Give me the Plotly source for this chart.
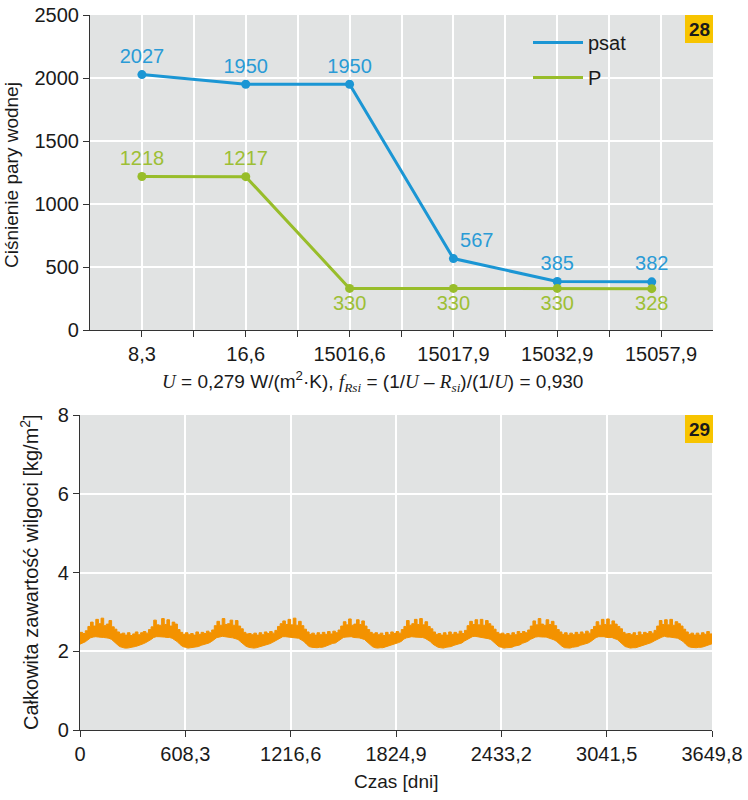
import plotly.graph_objects as go

# ---------------- Chart 28 data ----------------
categories = ["8,3", "16,6", "15016,6", "15017,9", "15032,9", "15057,9"]
cat_ticks = [0, 1, 2, 3, 4, 5]
point_pos = [0, 1, 2, 3, 4, 4.91]
psat = [2027, 1950, 1950, 567, 385, 382]
p_vals = [1218, 1217, 330, 330, 330, 328]

# ---------------- Chart 29 data ----------------
time_ticks = [0, 608.3, 1216.6, 1824.9, 2433.2, 3041.5, 3649.8]
time_labels = ["0", "608,3", "1216,6", "1824,9", "2433,2", "3041,5", "3649,8"]
t_end = 3649.8
# moisture content read roughly every ~15.2 days: lower and upper edge of the band
moist_lower = [
    2.18, 2.20, 2.24, 2.29, 2.34, 2.36, 2.37, 2.36, 2.36, 2.35, 2.34, 2.33, 2.30, 2.25, 2.18, 2.12, 2.09, 2.08, 2.08, 2.09, 2.10, 2.12, 2.14, 2.16,
    2.19, 2.22, 2.25, 2.30, 2.35, 2.37, 2.37, 2.37, 2.36, 2.35, 2.35, 2.33, 2.29, 2.24, 2.17, 2.12, 2.10, 2.08, 2.09, 2.10, 2.11, 2.12, 2.15, 2.17,
    2.19, 2.21, 2.25, 2.31, 2.35, 2.36, 2.38, 2.37, 2.36, 2.36, 2.34, 2.32, 2.30, 2.24, 2.18, 2.13, 2.10, 2.09, 2.08, 2.09, 2.11, 2.13, 2.14, 2.16,
    2.19, 2.22, 2.26, 2.30, 2.34, 2.37, 2.37, 2.36, 2.36, 2.35, 2.34, 2.33, 2.29, 2.25, 2.18, 2.12, 2.10, 2.09, 2.09, 2.10, 2.10, 2.12, 2.15, 2.17,
    2.20, 2.21, 2.25, 2.30, 2.35, 2.36, 2.37, 2.37, 2.35, 2.35, 2.34, 2.32, 2.30, 2.24, 2.17, 2.12, 2.09, 2.08, 2.09, 2.09, 2.11, 2.13, 2.14, 2.16,
    2.19, 2.22, 2.25, 2.31, 2.34, 2.36, 2.37, 2.36, 2.36, 2.35, 2.35, 2.33, 2.29, 2.25, 2.18, 2.13, 2.10, 2.09, 2.08, 2.10, 2.11, 2.12, 2.15, 2.17,
    2.19, 2.21, 2.26, 2.30, 2.35, 2.37, 2.38, 2.37, 2.36, 2.35, 2.34, 2.32, 2.30, 2.24, 2.17, 2.12, 2.10, 2.08, 2.09, 2.09, 2.10, 2.13, 2.14, 2.16,
    2.20, 2.22, 2.25, 2.30, 2.34, 2.36, 2.37, 2.36, 2.36, 2.36, 2.34, 2.33, 2.29, 2.25, 2.18, 2.13, 2.09, 2.09, 2.08, 2.10, 2.11, 2.12, 2.15, 2.17,
    2.19, 2.21, 2.25, 2.31, 2.35, 2.37, 2.37, 2.37, 2.35, 2.35, 2.35, 2.32, 2.30, 2.24, 2.17, 2.12, 2.10, 2.08, 2.09, 2.09, 2.11, 2.13, 2.14, 2.16,
    2.19, 2.22, 2.26, 2.30, 2.34, 2.36, 2.38, 2.36, 2.36, 2.35, 2.34, 2.33, 2.29, 2.25, 2.18, 2.12, 2.10, 2.09, 2.09, 2.10, 2.10, 2.12, 2.15, 2.17,
    2.19,
]
moist_upper = [
    2.48, 2.45, 2.52, 2.63, 2.74, 2.64, 2.81, 2.70, 2.84, 2.65, 2.69, 2.78, 2.62, 2.56, 2.49, 2.44, 2.46, 2.41, 2.47, 2.40, 2.44, 2.49, 2.42, 2.47,
    2.50, 2.46, 2.55, 2.62, 2.79, 2.67, 2.66, 2.83, 2.68, 2.80, 2.64, 2.74, 2.69, 2.55, 2.48, 2.43, 2.47, 2.42, 2.45, 2.41, 2.49, 2.43, 2.48, 2.45,
    2.51, 2.47, 2.54, 2.65, 2.76, 2.66, 2.83, 2.68, 2.70, 2.79, 2.66, 2.78, 2.64, 2.57, 2.48, 2.44, 2.45, 2.42, 2.46, 2.41, 2.47, 2.42, 2.49, 2.45,
    2.50, 2.46, 2.53, 2.63, 2.70, 2.77, 2.68, 2.81, 2.67, 2.84, 2.66, 2.76, 2.65, 2.56, 2.49, 2.43, 2.46, 2.41, 2.47, 2.42, 2.48, 2.43, 2.50, 2.44,
    2.51, 2.47, 2.54, 2.64, 2.75, 2.67, 2.82, 2.66, 2.69, 2.80, 2.68, 2.77, 2.64, 2.55, 2.48, 2.44, 2.47, 2.42, 2.46, 2.40, 2.48, 2.42, 2.49, 2.45,
    2.50, 2.46, 2.55, 2.63, 2.78, 2.66, 2.70, 2.81, 2.68, 2.83, 2.67, 2.75, 2.63, 2.57, 2.49, 2.43, 2.45, 2.41, 2.47, 2.41, 2.49, 2.43, 2.48, 2.44,
    2.51, 2.45, 2.53, 2.65, 2.76, 2.68, 2.80, 2.67, 2.81, 2.66, 2.78, 2.70, 2.64, 2.56, 2.48, 2.44, 2.46, 2.42, 2.45, 2.41, 2.47, 2.42, 2.50, 2.45,
    2.50, 2.47, 2.54, 2.64, 2.77, 2.67, 2.83, 2.69, 2.66, 2.80, 2.68, 2.76, 2.65, 2.55, 2.49, 2.43, 2.47, 2.41, 2.46, 2.42, 2.48, 2.43, 2.49, 2.44,
    2.51, 2.46, 2.55, 2.63, 2.75, 2.66, 2.81, 2.68, 2.82, 2.67, 2.77, 2.69, 2.63, 2.57, 2.48, 2.44, 2.45, 2.42, 2.47, 2.40, 2.49, 2.42, 2.48, 2.45,
    2.50, 2.46, 2.53, 2.64, 2.78, 2.68, 2.80, 2.67, 2.81, 2.66, 2.75, 2.70, 2.64, 2.56, 2.49, 2.43, 2.46, 2.41, 2.46, 2.41, 2.47, 2.43, 2.50, 2.44,
    2.42,
]
n_steps = len(moist_lower) - 1
time_days = [t_end * i / n_steps for i in range(n_steps + 1)]

# ---------------- styles ----------------
W, H = 748, 800
BLUE = "#1b96d4"
BLUE_TXT = "#2a9bd6"
GREEN = "#98bd2a"
GREEN_TXT = "#9dbf35"
ORANGE = "#f39200"
BG = "#e1e3e3"
AXC = "#333333"
FONT = "Liberation Sans"


def px_x(px):
    return px / W


def px_y(py):
    return 1 - py / H


fig = go.Figure()

fig.add_trace(go.Scatter(
    x=point_pos, y=psat, name="psat", mode="lines+markers+text",
    text=[str(v) for v in psat],
    textposition=["top center", "top center", "top center", "top right", "top center", "top center"],
    textfont=dict(color=BLUE_TXT, size=20, family=FONT),
    line=dict(color=BLUE, width=3), marker=dict(color=BLUE, size=9),
    xaxis="x", yaxis="y", showlegend=False, cliponaxis=False,
))
fig.add_trace(go.Scatter(
    x=point_pos, y=p_vals, name="P", mode="lines+markers+text",
    text=[str(v) for v in p_vals],
    textposition=["top center", "top center", "bottom center", "bottom center", "bottom center", "bottom center"],
    textfont=dict(color=GREEN_TXT, size=20, family=FONT),
    line=dict(color=GREEN, width=3), marker=dict(color=GREEN, size=9),
    xaxis="x", yaxis="y", showlegend=False, cliponaxis=False,
))
# legend entries (line only, as in the reference)
for nm, col, grp in (("psat", BLUE, "a"), ("P", GREEN, "b")):
    fig.add_trace(go.Scatter(x=[None], y=[None], mode="lines", name=nm,
                             line=dict(color=col, width=3), xaxis="x", yaxis="y",
                             legendgroup=grp))

fig.add_trace(go.Scatter(
    x=time_days, y=moist_lower, mode="lines", line=dict(color=ORANGE, width=1),
    xaxis="x2", yaxis="y2", showlegend=False, hoverinfo="skip",
))
fig.add_trace(go.Scatter(
    x=time_days, y=moist_upper, mode="lines", line=dict(color=ORANGE, width=1, shape="hv"),
    fill="tonexty", fillcolor=ORANGE,
    xaxis="x2", yaxis="y2", showlegend=False,
))

axis_common = dict(
    showline=True, linecolor=AXC, linewidth=1.2, ticks="outside", ticklen=6,
    tickcolor=AXC, showgrid=True, gridcolor="white", gridwidth=1.5, zeroline=False,
    automargin=False,
    tickfont=dict(family=FONT, size=20, color="#1a1a1a"),
)

fig.update_layout(
    width=W, height=H, margin=dict(l=0, r=0, t=0, b=0, autoexpand=False),
    paper_bgcolor="white", plot_bgcolor=BG,
    font=dict(family=FONT, color="#1a1a1a"),
    xaxis=dict(
        domain=[px_x(90), px_x(713)], anchor="y", range=[-0.5, 5.5],
        tickmode="array", tickvals=cat_ticks, ticktext=categories,
        minor=dict(tickvals=[0.5, 1.5, 2.5, 3.5, 4.5], showgrid=True, gridcolor="white",
                   gridwidth=1.5, ticks="outside", ticklen=6, tickcolor=AXC),
        **axis_common,
    ),
    yaxis=dict(
        domain=[px_y(330), px_y(15)], anchor="x", range=[0, 2500], dtick=500,
        **axis_common,
    ),
    xaxis2=dict(
        domain=[px_x(80), px_x(712)], anchor="y2", range=[0, t_end],
        tickmode="array", tickvals=time_ticks, ticktext=time_labels,
        **axis_common,
    ),
    yaxis2=dict(
        domain=[px_y(730), px_y(415)], anchor="x2", range=[0, 8], dtick=2,
        **axis_common,
    ),
    legend=dict(
        x=px_x(528), y=px_y(23), xanchor="left", yanchor="top",
        bgcolor="rgba(0,0,0,0)", font=dict(family=FONT, size=20, color="#1a1a1a"),
        tracegroupgap=6, traceorder="grouped", itemwidth=50,
    ),
    showlegend=True,
)

# badges
for label, top in (("28", 15), ("29", 415)):
    fig.add_shape(type="rect", xref="paper", yref="paper",
                  x0=px_x(685), x1=px_x(713), y0=px_y(top + 28), y1=px_y(top),
                  fillcolor="#f7c400", line=dict(width=0), layer="above")
    fig.add_annotation(text=f"<b>{label}</b>", xref="paper", yref="paper",
                       x=px_x(699), y=px_y(top + 14), showarrow=False,
                       xanchor="center", yanchor="middle",
                       font=dict(family=FONT, size=19, color="#1a1a1a"))

# axis titles
fig.add_annotation(text="Ciśnienie pary wodnej", xref="paper", yref="paper",
                   x=px_x(11), y=px_y(175), textangle=-90, showarrow=False,
                   xanchor="center", yanchor="middle",
                   font=dict(family=FONT, size=19, color="#1a1a1a"))
fig.add_annotation(text="Całkowita zawartość wilgoci [kg/m<sup>2</sup>]", xref="paper", yref="paper",
                   x=px_x(29), y=px_y(572), textangle=-90, showarrow=False,
                   xanchor="center", yanchor="middle",
                   font=dict(family=FONT, size=20, color="#1a1a1a"))
SERIF = "font-family:'Liberation Serif';font-style:italic"
formula = (f"<span style=\"{SERIF}\">U</span> = 0,279 W/(m<sup>2</sup>·K), "
           f"<span style=\"{SERIF}\">f<sub>Rsi</sub></span> = (1/<span style=\"{SERIF}\">U</span> – "
           f"<span style=\"{SERIF}\">R<sub>si</sub></span>)/(1/<span style=\"{SERIF}\">U</span>) = 0,930")
fig.add_annotation(text=formula, xref="paper", yref="paper",
                   x=px_x(372), y=px_y(381), showarrow=False,
                   xanchor="center", yanchor="middle",
                   font=dict(family=FONT, size=19, color="#1a1a1a"))
fig.add_annotation(text="Czas [dni]", xref="paper", yref="paper",
                   x=px_x(396), y=px_y(781), showarrow=False,
                   xanchor="center", yanchor="middle",
                   font=dict(family=FONT, size=19, color="#1a1a1a"))

fig.write_html("out.html")
